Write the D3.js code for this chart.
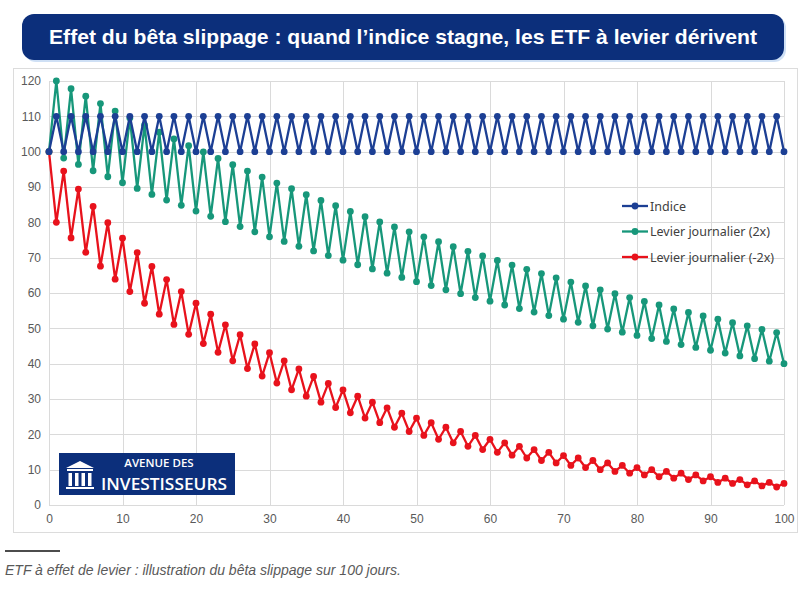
<!DOCTYPE html>
<html>
<head>
<meta charset="utf-8">
<script src="https://cdn.jsdelivr.net/npm/d3@7"></script>
<style>
  body { margin: 0; background: #fff; }
  svg { display: block; }
</style>
</head>
<body>
<script>
// jours 0 -> 100
var jours = d3.range(0, 101);

var indice = [
  100,110,100,110,100,110,100,110,100,110,
  100,110,100,110,100,110,100,110,100,110,
  100,110,100,110,100,110,100,110,100,110,
  100,110,100,110,100,110,100,110,100,110,
  100,110,100,110,100,110,100,110,100,110,
  100,110,100,110,100,110,100,110,100,110,
  100,110,100,110,100,110,100,110,100,110,
  100,110,100,110,100,110,100,110,100,110,
  100,110,100,110,100,110,100,110,100,110,
  100,110,100,110,100,110,100,110,100,110,
  100];

var levier2x = [
  100,120,98.2,117.8,96.4,115.7,94.6,113.6,92.9,111.5,
  91.2,109.5,89.6,107.5,87.9,105.5,86.3,103.6,84.8,101.7,
  83.2,99.9,81.7,98.1,80.2,96.3,78.8,94.5,77.3,92.8,
  75.9,91.1,74.6,89.5,73.2,87.8,71.9,86.2,70.6,84.7,
  69.3,83.1,68.0,81.6,66.8,80.1,65.6,78.7,64.4,77.3,
  63.2,75.9,62.1,74.5,60.9,73.1,59.8,71.8,58.7,70.5,
  57.7,69.2,56.6,67.9,55.6,66.7,54.6,65.5,53.6,64.3,
  52.6,63.1,51.7,62.0,50.7,60.9,49.8,59.8,48.9,58.7,
  48.0,57.6,47.1,56.6,46.3,55.5,45.4,54.5,44.6,53.5,
  43.8,52.6,43.0,51.6,42.2,50.7,41.4,49.7,40.7,48.8,
  40.0];

var levierM2x = [
  100,80,94.5,75.6,89.4,71.5,84.5,67.6,79.9,63.9,
  75.5,60.4,71.4,57.1,67.5,54.0,63.8,51.1,60.4,48.3,
  57.1,45.7,54.0,43.2,51.0,40.8,48.2,38.6,45.6,36.5,
  43.1,34.5,40.8,32.6,38.5,30.8,36.4,29.1,34.4,27.6,
  32.6,26.1,30.8,24.6,29.1,23.3,27.5,22.0,26.0,20.8,
  24.6,19.7,23.3,18.6,22.0,17.6,20.8,16.6,19.7,15.7,
  18.6,14.9,17.6,14.1,16.6,13.3,15.7,12.6,14.9,11.9,
  14.0,11.2,13.3,10.6,12.6,10.0,11.9,9.5,11.2,9.0,
  10.6,8.5,10.0,8.0,9.5,7.6,9.0,7.2,8.5,6.8,
  8.0,6.4,7.6,6.1,7.2,5.7,6.8,5.4,6.4,5.1,
  6.1];

var noms = ["Indice", "Levier journalier (2x)", "Levier journalier (-2x)"];
var couleurs = ["#1c3f94", "#17977a", "#e8121c"];
var yTicks = [0,10,20,30,40,50,60,70,80,90,100,110,120];
var xTicks = [0,10,20,30,40,50,60,70,80,90,100];

var titre = "Effet du bêta slippage : quand l’indice stagne, les ETF à levier dérivent";
var legende = "ETF à effet de levier : illustration du bêta slippage sur 100 jours.";

var width = 800, height = 592;

var svg = d3.select("body").append("svg")
  .attr("width", width)
  .attr("height", height);

// bandeau titre
svg.append("rect")
  .attr("x", 24).attr("y", 16).attr("width", 762).attr("height", 46)
  .attr("rx", 12).attr("fill", "#cfe0f5");
svg.append("rect")
  .attr("x", 22).attr("y", 14).attr("width", 762).attr("height", 46)
  .attr("rx", 12).attr("fill", "#0c2f7b");
svg.append("text")
  .attr("x", 403).attr("y", 44)
  .attr("text-anchor", "middle")
  .attr("fill", "#fff")
  .style("font-family", "'Liberation Sans Narrow', 'Liberation Sans', Arial, sans-serif")
  .style("font-weight", "bold")
  .style("font-size", "21px")
  .attr("textLength", 708)
  .attr("lengthAdjust", "spacingAndGlyphs")
  .text(titre);

// cadre du graphique
svg.append("rect")
  .attr("x", 13.5).attr("y", 68.5).attr("width", 784).attr("height", 464)
  .attr("fill", "#fff").attr("stroke", "#dcdcdc");

var x = d3.scaleLinear().domain([0, 100]).range([49, 784]);
var y = d3.scaleLinear().domain([0, 120]).range([505, 81]);

// grille
var grid = svg.append("g").attr("stroke", "#dadada").attr("stroke-width", 1);
grid.selectAll("line.h").data(yTicks).enter().append("line")
  .attr("x1", x(0)).attr("x2", x(100))
  .attr("y1", function(d){ return Math.round(y(d)) + 0.5; })
  .attr("y2", function(d){ return Math.round(y(d)) + 0.5; });
grid.selectAll("line.v").data(xTicks).enter().append("line")
  .attr("y1", y(0)).attr("y2", y(120))
  .attr("x1", function(d){ return Math.round(x(d)) + 0.5; })
  .attr("x2", function(d){ return Math.round(x(d)) + 0.5; });

// axes
var yAxis = svg.append("g")
  .attr("transform", "translate(" + x(0) + ",0)")
  .call(d3.axisLeft(y).tickValues(yTicks).tickSize(0).tickPadding(8));
var xAxis = svg.append("g")
  .attr("transform", "translate(0," + y(0) + ")")
  .call(d3.axisBottom(x).tickValues(xTicks).tickSize(0).tickPadding(9));
[xAxis, yAxis].forEach(function(a){
  a.select(".domain").remove();
  a.selectAll("text")
    .attr("fill", "#595959")
    .style("font-family", "'Liberation Sans', Arial, sans-serif")
    .style("font-size", "12px");
});

// logo
var logo = svg.append("g");
logo.append("rect")
  .attr("x", 59).attr("y", 453).attr("width", 176).attr("height", 42)
  .attr("fill", "#0c2f7b");
logo.append("path")
  .attr("d", "M66,468 L80,461 L94,468 Z M67,469 h26 v2 h-26 Z M66,487 h28 v2 h-28 Z")
  .attr("fill", "#fff");
logo.selectAll("rect.col").data([0, 1, 2, 3]).enter().append("rect")
  .attr("x", function(d){ return 68.5 + d * 6.5; })
  .attr("y", 473).attr("width", 3.5).attr("height", 13)
  .attr("fill", "#fff");
logo.append("text")
  .attr("x", 159).attr("y", 467)
  .attr("text-anchor", "middle")
  .attr("fill", "#fff")
  .style("font-family", "'Open Sans', sans-serif")
  .style("font-weight", "600")
  .style("font-size", "11.5px")
  .text("AVENUE DES");
logo.append("text")
  .attr("x", 101).attr("y", 490)
  .attr("fill", "#fff")
  .style("font-family", "'Open Sans', sans-serif")
  .style("font-weight", "600")
  .style("font-size", "17px")
  .attr("textLength", 126)
  .attr("lengthAdjust", "spacingAndGlyphs")
  .text("INVESTISSEURS");

// séries
var series = [levierM2x, levier2x, indice];
var seriesCouleurs = [couleurs[2], couleurs[1], couleurs[0]];

var line = d3.line()
  .x(function(d, i){ return x(jours[i]); })
  .y(function(d){ return y(d); });

series.forEach(function(s, k){
  var g = svg.append("g");
  g.append("path")
    .datum(s)
    .attr("d", line)
    .attr("fill", "none")
    .attr("stroke", seriesCouleurs[k])
    .attr("stroke-width", 2.3)
    .attr("stroke-linejoin", "round");
  g.selectAll("circle").data(s).enter().append("circle")
    .attr("cx", function(d, i){ return x(jours[i]); })
    .attr("cy", function(d){ return y(d); })
    .attr("r", 3.4)
    .attr("fill", seriesCouleurs[k]);
});

// légende
var leg = svg.append("g").attr("transform", "translate(622,206)");
var items = leg.selectAll("g").data(noms).enter().append("g")
  .attr("transform", function(d, i){ return "translate(0," + (i * 25.5) + ")"; });
items.append("line")
  .attr("x1", 0).attr("x2", 26).attr("y1", 0).attr("y2", 0)
  .attr("stroke", function(d, i){ return couleurs[i]; })
  .attr("stroke-width", 2.3);
items.append("circle")
  .attr("cx", 13).attr("cy", 0).attr("r", 3.4)
  .attr("fill", function(d, i){ return couleurs[i]; });
items.append("text")
  .attr("x", 28).attr("y", 4.5)
  .attr("fill", "#404040")
  .style("font-family", "'Noto Sans', sans-serif")
  .style("font-size", "12.5px")
  .text(function(d){ return d; });

// note de bas
svg.append("line")
  .attr("x1", 5).attr("x2", 60).attr("y1", 551).attr("y2", 551)
  .attr("stroke", "#111").attr("stroke-width", 1.6);
svg.append("text")
  .attr("x", 5).attr("y", 575)
  .attr("fill", "#595959")
  .style("font-family", "'Liberation Sans', Arial, sans-serif")
  .style("font-style", "italic")
  .style("font-size", "14px")
  .text(legende);
</script>
</body>
</html>
